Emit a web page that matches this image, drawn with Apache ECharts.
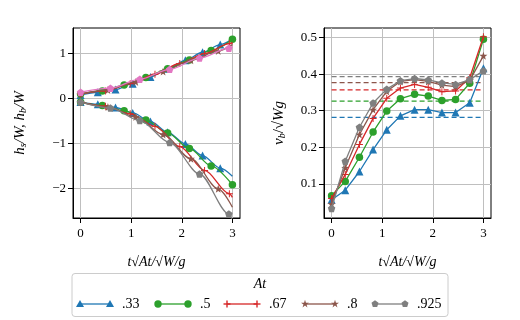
<!DOCTYPE html>
<html>
<head>
<meta charset="utf-8">
<script src="https://cdn.jsdelivr.net/npm/echarts@6/dist/echarts.min.js"></script>
<style>
  html, body { margin: 0; background: #fff; }
  #chart { width: 520px; height: 320px; }
</style>
</head>
<body>
<div id="chart"></div>
<script>
// At values (legend) and colours
const atLabels = [".33", ".5", ".67", ".8", ".925"];
const colors = ["#1f77b4", "#2ca02c", "#d62728", "#8c564b", "#7f7f7f"];
const upperColors = ["#1f77b4", "#2ca02c", "#d62728", "#8c564b", "#e377c2"];

// left panel: marker times (scaled) per At
const tLeft = [
  [0, 0.34, 0.69, 1.03, 1.38, 1.72, 2.07, 2.41, 2.76],
  [0, 0.43, 0.86, 1.29, 1.72, 2.15, 2.58, 3.0],
  [0, 0.49, 0.98, 1.47, 1.96, 2.45, 2.94],
  [0, 0.54, 1.09, 1.63, 2.18, 2.72],
  [0, 0.59, 1.17, 1.76, 2.35, 2.93],
];
// spike height h_s/W (upper branch)
const hsVals = [
  [0.08, 0.14, 0.2, 0.33, 0.48, 0.66, 0.85, 1.03, 1.2],
  [0.1, 0.17, 0.3, 0.47, 0.66, 0.86, 1.07, 1.32],
  [0.1, 0.17, 0.33, 0.54, 0.78, 1.0, 1.22],
  [0.1, 0.19, 0.37, 0.6, 0.85, 1.06],
  [0.14, 0.23, 0.43, 0.65, 0.9, 1.12],
];
const hsEnd = [1.33, null, 1.25, 1.2, 1.16];
// bubble depth h_b/W (lower branch)
const hbVals = [
  [-0.08, -0.125, -0.2, -0.32, -0.51, -0.75, -1.01, -1.27, -1.55],
  [-0.08, -0.155, -0.27, -0.48, -0.77, -1.11, -1.5, -1.92],
  [-0.08, -0.17, -0.34, -0.62, -1.07, -1.6, -2.12],
  [-0.08, -0.19, -0.41, -0.8, -1.34, -2.01],
  [-0.08, -0.21, -0.49, -0.98, -1.68, -2.57],
];
const hbEnd = [-1.73, null, -2.2, -2.42, -2.72];

// right panel: bubble velocity
const tRight = [0, 0.27, 0.55, 0.82, 1.09, 1.36, 1.64, 1.91, 2.18, 2.45, 2.73, 3.0];
const vbVals = [
  [0.057, 0.083, 0.134, 0.194, 0.248, 0.286, 0.303, 0.303, 0.295, 0.295, 0.322, 0.416],
  [0.068, 0.107, 0.173, 0.242, 0.299, 0.333, 0.345, 0.34, 0.328, 0.331, 0.375, 0.495],
  [0.06, 0.126, 0.208, 0.279, 0.334, 0.362, 0.372, 0.364, 0.352, 0.354, 0.39, 0.502],
  [0.045, 0.144, 0.235, 0.303, 0.353, 0.38, 0.385, 0.38, 0.37, 0.366, 0.383, 0.45],
  [0.033, 0.162, 0.255, 0.321, 0.359, 0.382, 0.388, 0.384, 0.376, 0.372, 0.385, 0.409],
];
const vbTerminal = [0.282, 0.326, 0.357, 0.377, 0.393];

const xTicks = [0, 1, 2, 3];
const leftYTicks = [-2, -1, 0, 1];
const rightYTicks = [0.1, 0.2, 0.3, 0.4, 0.5];

const SERIF = "Liberation Serif";
const symbols = [
  "triangle",
  "circle",
  "path://M4.3,0h1.4v4.3h4.3v1.4h-4.3v4.3h-1.4v-4.3h-4.3v-1.4h4.3z",
  "path://M5,0L6.18,3.38L9.76,3.45L6.9,5.62L7.94,9.05L5,7L2.06,9.05L3.1,5.62L0.24,3.45L3.82,3.38Z",
  "path://M5,0L9.76,3.45L7.94,9.05L2.06,9.05L0.24,3.45Z",
];
const symbolSizes = [8, 7.5, 7, 8, 7.5];

function withEnd(xs, ys, endY) {
  const d = xs.map((x, i) => [x, ys[i]]);
  if (endY != null) d.push({ value: [3.0, endY], symbol: "none" });
  return d;
}

function axisX(gridIndex) {
  return {
    type: "value", gridIndex, min: -0.15, max: 3.15,
    axisLine: { show: true, onZero: false, lineStyle: { color: "#000", width: 1 } },
    axisTick: { show: true, length: 5, customValues: xTicks, lineStyle: { color: "#000" } },
    axisLabel: { customValues: xTicks, margin: 9, color: "#000", fontFamily: SERIF, fontSize: 13 },
    splitLine: { show: true, lineStyle: { color: "#bfbfbf", width: 1 } },
    name: "t√At/√W/g", nameLocation: "middle", nameGap: 37,
    nameTextStyle: { fontFamily: SERIF, fontStyle: "italic", fontSize: 14, color: "#000" },
  };
}

const series = [];
for (let i = 0; i < 5; i++) {
  const lineCommon = {
    type: "line", xAxisIndex: 0, yAxisIndex: 0, smooth: 0.3, smoothMonotone: "x",
    symbol: symbols[i], symbolSize: symbolSizes[i], animation: false,
  };
  series.push(Object.assign({}, lineCommon, {
    data: withEnd(tLeft[i], hbVals[i], hbEnd[i]),
    lineStyle: { color: colors[i], width: 1.3 }, itemStyle: { color: colors[i] }, z: 2 + i,
  }));
  series.push(Object.assign({}, lineCommon, {
    data: withEnd(tLeft[i], hsVals[i], hsEnd[i]),
    lineStyle: { color: upperColors[i], width: 1.3 }, itemStyle: { color: upperColors[i] }, z: 2 + i,
  }));
  series.push({
    type: "line", xAxisIndex: 1, yAxisIndex: 1, animation: false,
    symbol: symbols[i], symbolSize: symbolSizes[i],
    data: tRight.map((x, k) => [x, vbVals[i][k]]),
    lineStyle: { color: colors[i], width: 1.3 }, itemStyle: { color: colors[i] }, z: 2 + i,
  });
  series.push({
    type: "line", xAxisIndex: 1, yAxisIndex: 1, animation: false, symbol: "none",
    data: [[0, vbTerminal[i]], [3, vbTerminal[i]]],
    lineStyle: { color: colors[i], width: 1.3, type: [5, 3] }, z: 1,
  });
}

// legend drawn as graphics (line with a marker on each end, like the original)
function marker(kind, cx, cy, color) {
  const st = { fill: color };
  if (kind === 0) return [{ type: "polygon", shape: { points: [[cx, cy - 4], [cx + 4, cy + 3], [cx - 4, cy + 3]] }, style: st }];
  if (kind === 1) return [{ type: "circle", shape: { cx, cy, r: 3.7 }, style: st }];
  if (kind === 2) return [
    { type: "rect", shape: { x: cx - 3.5, y: cy - 0.7, width: 7, height: 1.4 }, style: st },
    { type: "rect", shape: { x: cx - 0.7, y: cy - 3.5, width: 1.4, height: 7 }, style: st },
  ];
  const pts = [];
  const n = kind === 3 ? 10 : 5;
  for (let k = 0; k < n; k++) {
    const r = kind === 3 ? (k % 2 ? 1.6 : 4.2) : 3.7;
    const a = -Math.PI / 2 + (k * 2 * Math.PI) / n;
    pts.push([cx + r * Math.cos(a), cy + r * Math.sin(a)]);
  }
  return [{ type: "polygon", shape: { points: pts }, style: st }];
}

const legendX = [80, 158, 227, 305, 375];
const legendY = 304;
const graphics = [
  { type: "rect", shape: { x: 72, y: 273.5, width: 376, height: 43, r: 3 },
    style: { fill: "#fff", stroke: "#cccccc", lineWidth: 1 }, z: 10 },
  { type: "text", x: 260, y: 284, z: 11,
    style: { text: "At", fontFamily: SERIF, fontStyle: "italic", fontSize: 14, fill: "#000", align: "center", verticalAlign: "middle" } },
];
atLabels.forEach((lab, i) => {
  const x0 = legendX[i], x1 = x0 + 30;
  graphics.push({ type: "line", z: 11, shape: { x1: x0, y1: legendY, x2: x1, y2: legendY }, style: { stroke: colors[i], lineWidth: 1.3 } });
  marker(i, x0, legendY, colors[i]).concat(marker(i, x1, legendY, colors[i])).forEach((g) => { g.z = 12; graphics.push(g); });
  graphics.push({ type: "text", x: x1 + 12, y: legendY, z: 11,
    style: { text: lab, fontFamily: SERIF, fontSize: 14, fill: "#000", verticalAlign: "middle" } });
});

const option = {
  backgroundColor: "#fff",
  animation: false,
  grid: [
    { left: 73, top: 28, width: 167, height: 190, show: true, borderColor: "#000", borderWidth: 1, backgroundColor: "transparent" },
    { left: 324, top: 28, width: 167, height: 190, show: true, borderColor: "#000", borderWidth: 1, backgroundColor: "transparent" },
  ],
  xAxis: [axisX(0), axisX(1)],
  yAxis: [
    {
      type: "value", gridIndex: 0, min: -2.66, max: 1.57,
      axisLine: { show: true, onZero: false, lineStyle: { color: "#000" } },
      axisTick: { show: true, length: 5, customValues: leftYTicks, lineStyle: { color: "#000" } },
      axisLabel: { customValues: leftYTicks, margin: 7, color: "#000", fontFamily: SERIF, fontSize: 13,
        formatter: (v) => String(v).replace("-", "\u2212") },
      splitLine: { show: true, lineStyle: { color: "#bfbfbf", width: 1 } },
      name: "{i|h}{s|s}{i|/W, h}{s|b}{i|/W}", nameLocation: "middle", nameGap: 45, nameRotate: 90,
      nameTextStyle: { color: "#000", rich: {
        i: { fontFamily: SERIF, fontStyle: "italic", fontSize: 15 },
        s: { fontFamily: SERIF, fontStyle: "italic", fontSize: 10, verticalAlign: "bottom", padding: [6, 0, 0, 0] },
      } },
    },
    {
      type: "value", gridIndex: 1, min: 0.007, max: 0.526,
      axisLine: { show: true, onZero: false, lineStyle: { color: "#000" } },
      axisTick: { show: true, length: 5, customValues: rightYTicks, lineStyle: { color: "#000" } },
      axisLabel: { customValues: rightYTicks, margin: 7, color: "#000", fontFamily: SERIF, fontSize: 13,
        formatter: (v) => v.toFixed(1) },
      splitLine: { show: true, lineStyle: { color: "#bfbfbf", width: 1 } },
      name: "{i|v}{s|b}{n|/√}{i|Wg}", nameLocation: "middle", nameGap: 37, nameRotate: 90,
      nameTextStyle: { color: "#000", rich: {
        i: { fontFamily: SERIF, fontStyle: "italic", fontSize: 15 },
        n: { fontFamily: SERIF, fontSize: 15 },
        s: { fontFamily: SERIF, fontStyle: "italic", fontSize: 10, verticalAlign: "bottom", padding: [6, 0, 0, 0] },
      } },
    },
  ],
  series,
  graphic: graphics,
};

const chart = echarts.init(document.getElementById("chart"), null, { renderer: "canvas" });
chart.setOption(option);
</script>
</body>
</html>
